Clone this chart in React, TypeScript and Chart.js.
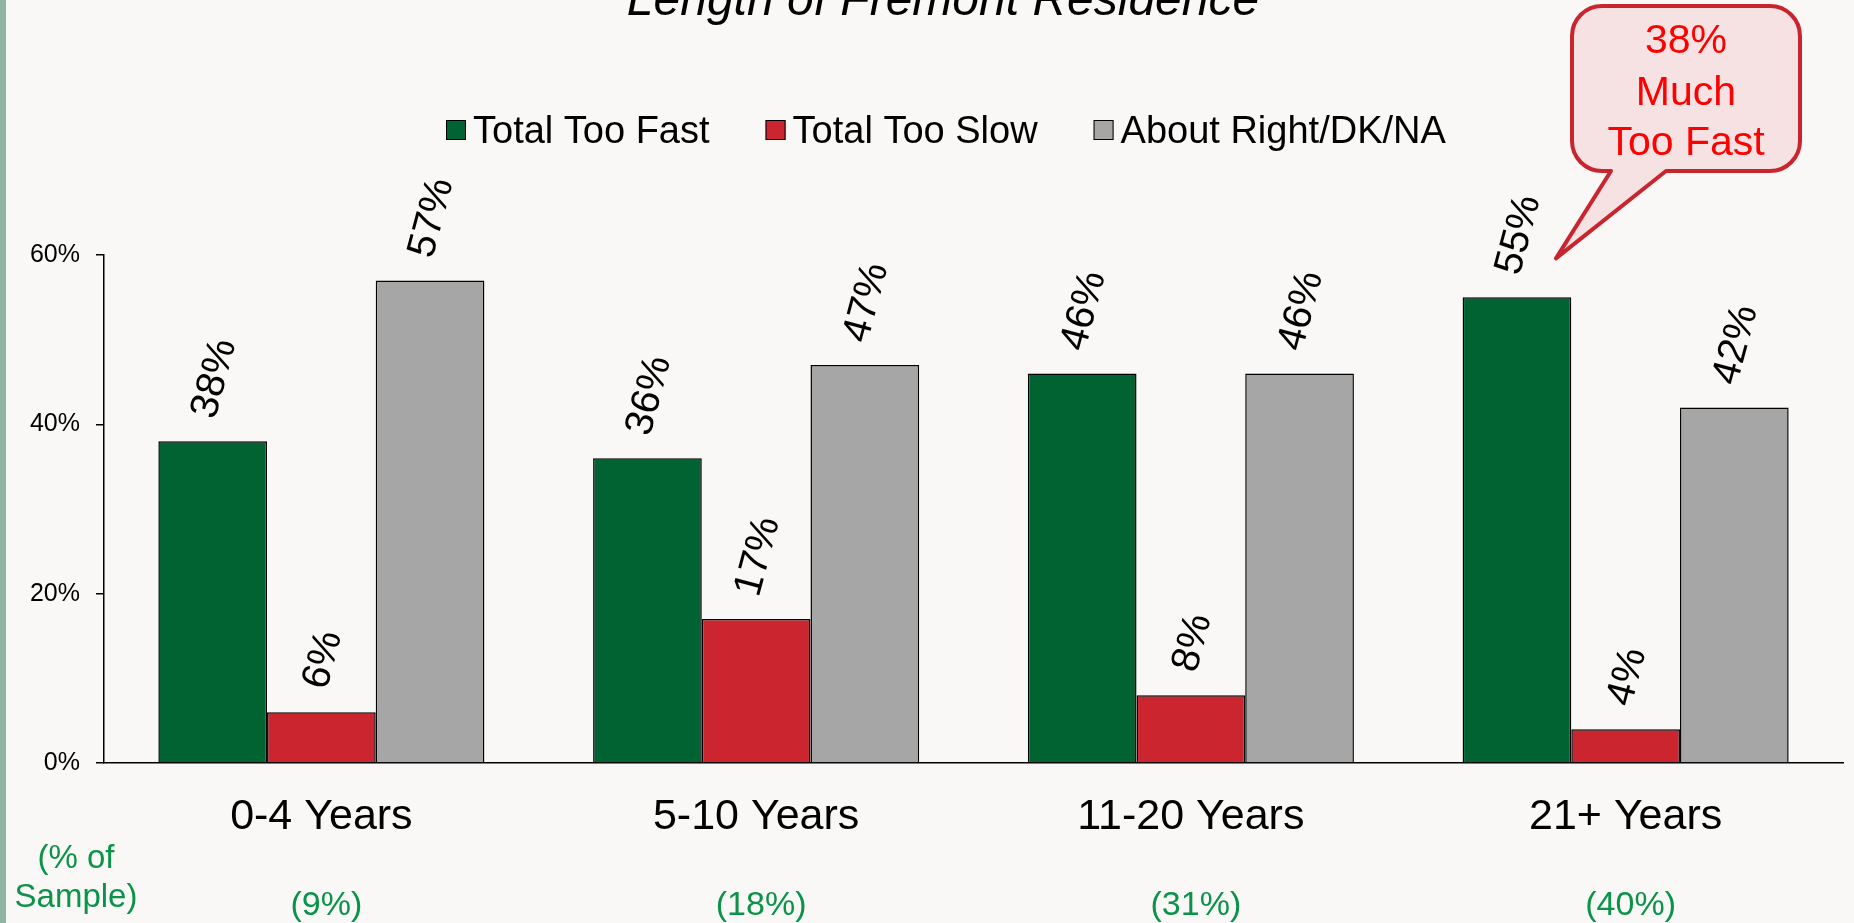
import React, { useEffect, useRef } from 'react';
import { Chart, registerables } from 'chart.js';

Chart.register(...registerables);

const W = 1854;
const H = 923;
const FONT = '"Liberation Sans", Arial, Helvetica, sans-serif';

const chartTitle = 'Length of Fremont Residence';
const categories = ['0-4 Years', '5-10 Years', '11-20 Years', '21+ Years'];
const sampleShares = ['(9%)', '(18%)', '(31%)', '(40%)'];
const sampleLabel = ['(% of', 'Sample)'];
const seriesNames = ['Total Too Fast', 'Total Too Slow', 'About Right/DK/NA'];
const tooFast = [38, 36, 46, 55];
const tooSlow = [6, 17, 8, 4];
const aboutRight = [57, 47, 46, 42];
const seriesColors = ['#006331', '#cb262f', '#a6a6a6'];
const yTicks = [0, 20, 40, 60];
const calloutLines = ['38%', 'Much', 'Too Fast'];

const GREEN_TEXT = '#0a9349';

const backgroundPlugin = {
  id: 'pageBackground',
  beforeDraw(chart: any) {
    const ctx = chart.ctx;
    ctx.save();
    ctx.fillStyle = '#f9f8f6';
    ctx.fillRect(0, 0, chart.width, chart.height);
    ctx.fillStyle = '#8db5a1';
    ctx.fillRect(0, 0, 6, chart.height);
    ctx.restore();
  },
};

const valueLabelPlugin = {
  id: 'valueLabels',
  afterDatasetsDraw(chart: any) {
    const ctx = chart.ctx;
    const angle = (-75 * Math.PI) / 180;
    const sin = Math.abs(Math.sin(angle));
    const cos = Math.abs(Math.cos(angle));
    const size = 40;
    ctx.save();
    ctx.font = `${size}px ${FONT}`;
    ctx.fillStyle = '#000';
    ctx.textAlign = 'center';
    ctx.textBaseline = 'middle';
    chart.data.datasets.forEach((ds: any, di: number) => {
      const meta = chart.getDatasetMeta(di);
      meta.data.forEach((el: any, i: number) => {
        const text = `${ds.data[i]}%`;
        const w = ctx.measureText(text).width * 0.95;
        const h = size * 0.72;
        const bboxH = w * sin + h * cos;
        const cy = el.y - 22 - bboxH / 2;
        ctx.save();
        ctx.translate(el.x + 2, cy);
        ctx.rotate(angle);
        ctx.fillText(text, 0, 0);
        ctx.restore();
      });
    });
    ctx.restore();
  },
};

const decorPlugin = {
  id: 'decor',
  afterDraw(chart: any) {
    const ctx = chart.ctx;
    ctx.save();

    // Title (partly cut off at top)
    ctx.font = `italic 48px ${FONT}`;
    ctx.fillStyle = '#000';
    ctx.textAlign = 'center';
    ctx.textBaseline = 'alphabetic';
    ctx.fillText(chartTitle, 943, 15);

    // Legend
    ctx.font = `38px ${FONT}`;
    ctx.textAlign = 'left';
    let x = 446;
    seriesNames.forEach((name, i) => {
      ctx.fillStyle = seriesColors[i];
      ctx.fillRect(x, 120, 20, 20);
      ctx.strokeStyle = '#000';
      ctx.lineWidth = 1;
      ctx.strokeRect(x + 0.5, 120.5, 19, 19);
      ctx.fillStyle = '#000';
      ctx.fillText(name, x + 27, 143);
      x += 27 + ctx.measureText(name).width + 56;
    });

    // Sample shares under the category labels
    const xs = chart.scales.x;
    ctx.font = `34px ${FONT}`;
    ctx.fillStyle = GREEN_TEXT;
    ctx.textAlign = 'center';
    sampleShares.forEach((s, i) => {
      ctx.fillText(s, xs.getPixelForValue(i) + 5, 915);
    });
    ctx.font = `33px ${FONT}`;
    ctx.fillText(sampleLabel[0], 76, 868);
    ctx.fillText(sampleLabel[1], 76, 907);

    // Callout
    const meta = chart.getDatasetMeta(0);
    const bar = meta.data[3];
    const tipX = bar.x + 39;
    const tipY = bar.y - 39;
    const bx0 = 1572, by0 = 6, bx1 = 1800, by1 = 171, r = 30;
    ctx.beginPath();
    ctx.moveTo(bx0 + r, by0);
    ctx.lineTo(bx1 - r, by0);
    ctx.arcTo(bx1, by0, bx1, by0 + r, r);
    ctx.lineTo(bx1, by1 - r);
    ctx.arcTo(bx1, by1, bx1 - r, by1, r);
    ctx.lineTo(1666, by1);
    ctx.lineTo(tipX, tipY);
    ctx.lineTo(1611, by1);
    ctx.lineTo(bx0 + r, by1);
    ctx.arcTo(bx0, by1, bx0, by1 - r, r);
    ctx.lineTo(bx0, by0 + r);
    ctx.arcTo(bx0, by0, bx0 + r, by0, r);
    ctx.closePath();
    ctx.fillStyle = '#f6e2e3';
    ctx.fill();
    ctx.strokeStyle = '#c9252f';
    ctx.lineWidth = 4;
    ctx.lineJoin = 'round';
    ctx.stroke();

    ctx.font = `41px ${FONT}`;
    ctx.fillStyle = '#ff0000';
    ctx.textAlign = 'center';
    const cx = (bx0 + bx1) / 2;
    [53, 105, 155].forEach((y, i) => ctx.fillText(calloutLines[i], cx, y));

    ctx.restore();
  },
};

export default function App() {
  const ref = useRef<HTMLCanvasElement | null>(null);

  useEffect(() => {
    document.body.style.margin = '0';
    document.body.style.background = '#f9f8f6';
    const canvas = ref.current;
    if (!canvas) return;
    const chart = new Chart(canvas, {
      type: 'bar',
      data: {
        labels: categories,
        datasets: [
          { label: seriesNames[0], data: tooFast, backgroundColor: seriesColors[0] },
          { label: seriesNames[1], data: tooSlow, backgroundColor: seriesColors[1] },
          { label: seriesNames[2], data: aboutRight, backgroundColor: seriesColors[2] },
        ].map((d) => ({
          ...d,
          borderColor: '#000',
          borderWidth: 1.5,
          categoryPercentage: 0.75,
          barPercentage: 1.0,
        })),
      },
      options: {
        responsive: false,
        animation: false,
        devicePixelRatio: 1,
        layout: { padding: { top: 255, right: 11, bottom: 0, left: 0 } },
        plugins: {
          legend: { display: false },
          title: { display: false },
          tooltip: { enabled: false },
        },
        scales: {
          x: {
            grid: { display: false, drawTicks: false },
            border: { display: true, color: '#000', width: 1.5 },
            ticks: {
              font: { family: FONT, size: 43 },
              color: '#000',
              padding: 28,
              maxRotation: 0,
              autoSkip: false,
            },
            afterFit: (s: any) => {
              s.height = 160;
            },
          },
          y: {
            min: 0,
            max: 60,
            afterBuildTicks: (s: any) => {
              s.ticks = yTicks.map((v) => ({ value: v }));
            },
            grid: {
              drawOnChartArea: false,
              drawTicks: true,
              tickLength: 8,
              tickColor: '#000',
              color: '#000',
              lineWidth: 1.5,
            },
            border: { display: true, color: '#000', width: 1.5 },
            ticks: {
              font: { family: FONT, size: 25 },
              color: '#000',
              padding: 16,
              callback: (v: any) => `${v}%`,
            },
            afterFit: (s: any) => {
              s.width = 104;
            },
          },
        },
      },
      plugins: [backgroundPlugin, valueLabelPlugin, decorPlugin],
    } as any);
    return () => chart.destroy();
  }, []);

  return (
    <div style={{ position: 'absolute', left: 0, top: 0, width: W, height: H, background: '#f9f8f6' }}>
      <canvas ref={ref} width={W} height={H} style={{ display: 'block', width: W, height: H }} />
    </div>
  );
}
